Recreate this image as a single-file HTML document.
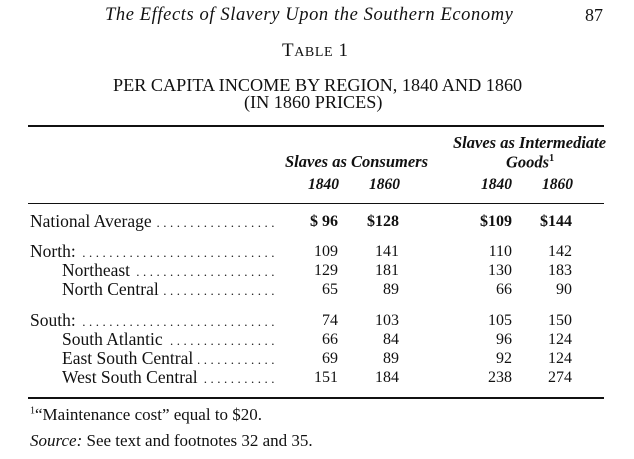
<!DOCTYPE html>
<html><head><meta charset="utf-8">
<style>
body{margin:0;background:#fff;}
#page{position:relative;width:634px;height:459px;overflow:hidden;background:#fff;font-family:"Liberation Serif",serif;color:#111;}
.t{position:absolute;white-space:nowrap;line-height:1;}
.rule{position:absolute;left:28px;width:576px;background:#111;}
.num{position:absolute;text-align:right;width:50px;font-size:16px;line-height:1;}
.lab{position:absolute;font-size:17.5px;line-height:1;white-space:nowrap;}
.dots{position:absolute;font-size:13px;line-height:1;letter-spacing:3.5px;overflow:hidden;white-space:nowrap;direction:rtl;}
</style></head>
<body>
<div id="page">
  <div class="t" style="left:105px;top:6px;font-size:18.5px;font-style:italic;letter-spacing:0.6px;">The Effects of Slavery Upon the Southern Economy</div>
  <div class="t" style="left:585px;top:6px;font-size:18px;">87</div>
  <div class="t" style="left:282px;top:41px;font-size:19px;letter-spacing:0.6px;">T<span style="font-size:14px">ABLE</span> 1</div>
  <div class="t" style="left:113px;top:76px;font-size:18.2px;">PER CAPITA INCOME BY REGION, 1840 AND 1860</div>
  <div class="t" style="left:244px;top:93px;font-size:18.2px;">(IN 1860 PRICES)</div>
  <div class="rule" style="top:125px;height:2px;"></div>
  <div class="t" style="left:453px;top:135px;font-size:16.5px;font-style:italic;font-weight:bold;">Slaves as Intermediate</div>
  <div class="t" style="left:285px;top:154px;font-size:16.5px;font-style:italic;font-weight:bold;">Slaves as Consumers</div>
  <div class="t" style="left:506px;top:154px;font-size:16.5px;font-style:italic;font-weight:bold;">Goods<sup style="font-size:10px;font-style:normal">1</sup></div>
  <div class="t" style="left:308px;top:177px;font-size:15.5px;font-style:italic;font-weight:bold;">1840</div>
  <div class="t" style="left:369px;top:177px;font-size:15.5px;font-style:italic;font-weight:bold;">1860</div>
  <div class="t" style="left:481px;top:177px;font-size:15.5px;font-style:italic;font-weight:bold;">1840</div>
  <div class="t" style="left:542px;top:177px;font-size:15.5px;font-style:italic;font-weight:bold;">1860</div>
  <div class="rule" style="top:203px;height:1px;"></div>
  <div class="rule" style="top:397px;height:2px;"></div>
  <div class="t" style="left:30px;top:406px;font-size:17px;"><sup style="font-size:10px">1</sup>“Maintenance cost” equal to $20.</div>
  <div class="t" style="left:30px;top:432px;font-size:17px;"><i>Source:</i> See text and footnotes 32 and 35.</div>
</div>
<script>
const labels = ["National Average","North:","Northeast","North Central","South:","South Atlantic","East South Central","West South Central"];
const indent = [0,0,1,1,0,1,1,1];
const cons1840 = ["$ 96","109","129","65","74","66","69","151"];
const cons1860 = ["$128","141","181","89","103","84","89","184"];
const int1840 = ["$109","110","130","66","105","96","92","238"];
const int1860 = ["$144","142","183","90","150","124","124","274"];
const rowTops = [214,244,263,282,313,332,351,370];
const colRights = [338,399,512,572];
const page = document.getElementById('page');
labels.forEach((lab,i)=>{
  const top = rowTops[i];
  const l = document.createElement('div');
  l.className='lab';
  
  
  const lx = indent[i]?62:30;
  l.style.left=lx+'px'; l.style.top=(top-1)+'px'; l.textContent=lab;
  page.appendChild(l);
  const w = l.getBoundingClientRect().width;
  const d = document.createElement('div');
  d.className='dots';
  
  
  const ds = lx+w+5;
  d.style.left=ds+'px'; d.style.width=(278-ds)+'px'; d.style.top=(top+2)+'px';
  d.textContent='.'.repeat(60);
  page.appendChild(d);
  [cons1840,cons1860,int1840,int1860].forEach((arr,c)=>{
    const n=document.createElement('div');
    n.className='num';
    
    
    n.style.left=(colRights[c]-50)+'px'; n.style.top=top+'px';
    if(i===0) n.style.fontWeight='bold';
    n.textContent=arr[i];
    page.appendChild(n);
  });
});
</script>
</body></html>
